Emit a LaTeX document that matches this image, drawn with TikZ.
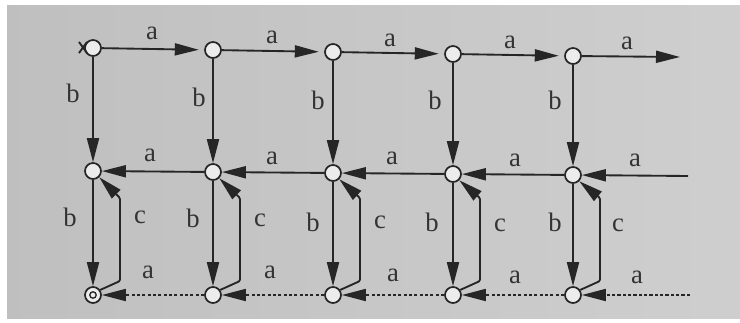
\documentclass[tikz,border=0pt]{standalone}
\usepackage{fontspec}
\setmainfont{Liberation Serif}
\usetikzlibrary{arrows.meta,calc}
\begin{document}
\begin{tikzpicture}[x=0.75pt,y=-0.75pt,
  state/.style={circle,draw=black!85,line width=1.3pt,fill=gray!15,minimum size=12pt,inner sep=0pt},
  edge/.style={draw=black!85,line width=1.4pt,-{Triangle[length=18pt,width=9pt]}},
  dashedge/.style={edge,dash pattern=on 2.4pt off 1.6pt},
  lbl/.style={font=\fontsize{20}{24}\selectfont,text=black!80,inner sep=0pt}]
  % paper and card
  \useasboundingbox (0,0) rectangle (740,322);
  \fill[white] (0,0) rectangle (740,322);
  \shade[left color=gray!50,right color=gray!38] (7,5) rectangle (740,318);

  % states
  \foreach \x/\i/\yt/\ym in {93/1/48/171, 213/2/50/172, 333/3/52/173, 453/4/54/174, 573/5/56/175}{
    \node[state] (t\i) at (\x,\yt) {};
    \node[state] (m\i) at (\x,\ym) {};
    \node[state] (b\i) at (\x,295) {};
  }
  \draw[line width=1pt,black!85] (b1) circle[radius=2.4pt];

  % initial marker
  \draw[line width=1.4pt,black!85] (79,42) -- (87,53) (79,53) -- (87,42);

  % free ends
  \coordinate (tout) at (680,57);
  \coordinate (min) at (688,176);
  \coordinate (bin) at (690,295);

  % top row
  \foreach \i/\j in {1/2,2/3,3/4,4/5}{
    \draw[edge,shorten >=4pt] (t\i) -- (t\j);
  }
  \draw[edge] (t5) -- (tout);

  % middle row
  \foreach \i/\j in {1/2,2/3,3/4,4/5}{
    \draw[edge] (m\j) -- (m\i);
  }
  \draw[edge] (min) -- (m5);

  % bottom row
  \foreach \i/\j in {1/2,2/3,3/4,4/5}{
    \draw[dashedge] (b\j) -- (b\i);
  }
  \draw[dashedge] (bin) -- (b5);

  % vertical b edges and c loops
  \foreach \x/\i in {93/1,213/2,333/3,453/4,573/5}{
    \draw[edge] (t\i) -- (m\i);
    \draw[edge] (m\i) -- (b\i);
    \draw[edge,rounded corners=1pt] (b\i.35) -- (\x+27,281) -- (\x+27,198) -- (m\i.-45);
  }

  % labels
  \foreach \x/\y in {152/33,272/37,390/40,510/42,627/43}{\node[lbl] at (\x,\y) {a};}
  \foreach \x/\y in {73/93,199/97,318/100,435/100,555/100}{\node[lbl] at (\x,\y) {b};}
  \foreach \x/\y in {150/155,272/158,392/158,515/160,635/160}{\node[lbl] at (\x,\y) {a};}
  \foreach \x/\y in {70/217,193/218,313/222,432/222,555/222}{\node[lbl] at (\x,\y) {b};}
  \foreach \x/\y in {140/217,260/220,380/222,500/225,618/225}{\node[lbl] at (\x,\y) {c};}
  \foreach \x/\y in {148/272,270/272,393/275,515/277,637/277}{\node[lbl] at (\x,\y) {a};}
\end{tikzpicture}
\end{document}
